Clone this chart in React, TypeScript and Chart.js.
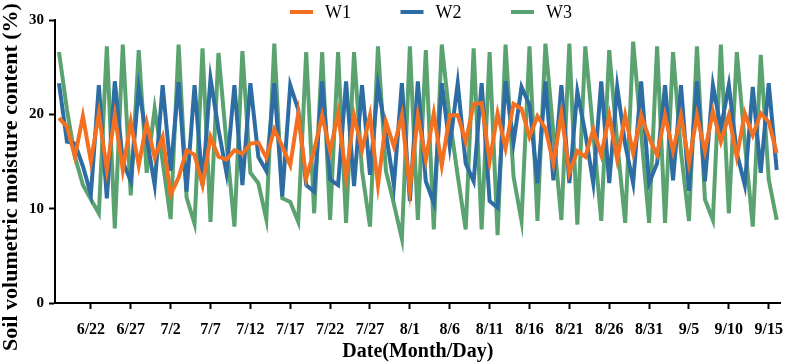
import React, { useEffect, useRef } from "react";
import { Chart, registerables } from "chart.js";

Chart.register(...registerables);

// Day index 0 = 6/18, one value per day up to 9/16 (index 90)
const tickDays = [4, 9, 14, 19, 24, 29, 34, 39, 44, 49, 54, 59, 64, 69, 74, 79, 84, 89];
const tickLabels = ["6/22", "6/27", "7/2", "7/7", "7/12", "7/17", "7/22", "7/27", "8/1", "8/6", "8/11", "8/16", "8/21", "8/26", "8/31", "9/5", "9/10", "9/15"];
const seriesNames = ["W1", "W2", "W3"];
const seriesColors = ["#F37021", "#2D6DA3", "#5AA371"];

const W1 = [
  19.6, 18.7, 15.5, 19.8, 15.0, 20.1, 14.1, 19.9, 14.1, 19.2,
  14.6, 19.1, 15.4, 17.6, 11.5, 13.3, 16.2, 15.7, 12.5, 17.6,
  15.5, 15.2, 16.2, 15.8, 16.9, 17.0, 15.4, 18.4, 16.6, 14.6,
  20.1, 13.2, 16.2, 19.9, 16.1, 20.1, 13.4, 19.9, 16.2, 19.9,
  12.5, 19.2, 16.6, 19.9, 12.0, 19.9, 15.2, 20.1, 14.6, 19.9,
  19.9, 17.1, 21.1, 21.2, 15.0, 20.1, 16.4, 21.1, 20.6, 17.6,
  19.8, 18.5, 14.8, 20.1, 13.8, 16.1, 15.5, 18.4, 15.7, 19.9,
  15.2, 19.9, 15.9, 19.9, 17.5, 15.7, 19.9, 16.1, 19.9, 14.8,
  19.9, 16.1, 20.3, 17.1, 19.9, 15.5, 20.1, 17.8, 20.1, 19.2,
  15.9,
];

const W2 = [
  23.3, 17.1, 16.9, 14.5, 11.5, 23.1, 11.1, 23.5, 15.0, 12.9,
  22.8, 17.5, 12.5, 23.1, 14.0, 23.4, 11.8, 23.1, 12.5, 23.8,
  18.4, 13.8, 23.1, 12.5, 23.3, 15.5, 14.0, 23.3, 11.3, 23.1,
  20.5, 12.5, 11.8, 23.5, 13.1, 12.5, 23.5, 12.4, 23.1, 13.6,
  23.1, 18.0, 12.5, 23.3, 10.8, 23.5, 12.9, 10.6, 23.3, 16.6,
  23.3, 14.8, 12.9, 23.3, 10.8, 10.1, 23.5, 17.0, 22.9, 21.0,
  12.7, 23.5, 13.0, 23.1, 12.7, 22.4, 18.0, 12.7, 23.5, 12.7,
  22.9, 16.8, 12.7, 23.5, 12.7, 14.8, 23.1, 13.0, 23.1, 11.9,
  23.5, 12.9, 23.1, 18.5, 23.1, 15.9, 12.5, 22.9, 13.8, 23.3,
  14.1,
];

const W3 = [
  26.6, 20.5, 15.5, 12.5, 11.0, 9.5, 27.2, 7.9, 27.4, 11.4,
  26.8, 13.8, 20.6, 15.0, 8.9, 27.4, 11.2, 8.4, 27.0, 8.6,
  26.5, 17.0, 8.1, 26.7, 13.8, 12.7, 8.9, 27.5, 11.1, 10.7,
  8.6, 26.6, 9.5, 26.6, 8.8, 26.6, 8.5, 26.6, 14.0, 8.1,
  27.2, 14.0, 10.5, 6.8, 27.2, 8.8, 26.8, 7.8, 27.4, 19.5,
  13.5, 7.8, 27.0, 7.8, 26.6, 7.2, 27.4, 13.4, 8.7, 27.2,
  8.7, 27.5, 18.0, 8.8, 27.5, 8.3, 27.2, 18.0, 8.7, 26.8,
  17.0, 8.5, 27.7, 18.0, 8.5, 27.2, 8.5, 26.6, 16.0, 8.7,
  27.2, 11.0, 8.8, 27.4, 9.5, 26.6, 17.0, 8.1, 26.3, 13.1,
  8.8,
];

const yTitle = "Soil volumetric moisture content (%)";
const xTitle = "Date(Month/Day)";
const SERIF = "'Liberation Serif', 'Times New Roman', serif";

const overlayPlugin = {
  id: "overlay",
  afterDraw(chart: any) {
    const ctx = chart.ctx as CanvasRenderingContext2D;
    ctx.save();
    // legend
    chart.data.datasets.forEach((ds: any, i: number) => {
      const x0 = 290 + i * 110.5;
      const y = 12;
      ctx.fillStyle = ds.borderColor;
      ctx.fillRect(x0, y - 2, 23, 4);
      ctx.fillStyle = "#000";
      ctx.font = `18px ${SERIF}`;
      ctx.textAlign = "left";
      ctx.textBaseline = "middle";
      ctx.fillText(ds.label, x0 + 35, y + 1);
    });
    // y title
    ctx.translate(11, 177);
    ctx.rotate(-Math.PI / 2);
    ctx.font = `bold 22px ${SERIF}`;
    ctx.textAlign = "center";
    ctx.textBaseline = "middle";
    ctx.fillStyle = "#000";
    ctx.fillText(yTitle, 0, 0);
    ctx.restore();
  },
};

export default function App() {
  const ref = useRef<HTMLCanvasElement | null>(null);
  useEffect(() => {
    document.body.style.margin = "0";
    const series = [W1, W2, W3];
    const chart = new Chart(ref.current as HTMLCanvasElement, {
      type: "line",
      data: {
        datasets: series.map((vals, i) => ({
          label: seriesNames[i],
          data: vals.map((y, d) => ({ x: d, y })),
          borderColor: seriesColors[i],
          backgroundColor: seriesColors[i],
          borderWidth: 4,
          pointRadius: 0,
          tension: 0,
          fill: false,
        })),
      },
      options: {
        animation: false,
        responsive: false,
        devicePixelRatio: 1,
        layout: { padding: { top: 20, right: 3.5, left: 0, bottom: 0 } },
        plugins: { legend: { display: false }, tooltip: { enabled: false } },
        scales: {
          x: {
            type: "linear",
            min: -0.5,
            max: 90.5,
            afterFit: (s: any) => {
              s.height = 61;
            },
            afterBuildTicks: (s: any) => {
              s.ticks = tickDays.map((v) => ({ value: v }));
            },
            ticks: {
              autoSkip: false,
              maxRotation: 0,
              padding: 11,
              color: "#000",
              font: { family: SERIF, size: 16, weight: "bold" },
              callback: (v: any) => {
                const k = tickDays.indexOf(Number(v));
                return k >= 0 ? tickLabels[k] : "";
              },
            },
            grid: { display: true, drawOnChartArea: false, drawTicks: true, tickLength: 6, tickWidth: 2, tickColor: "#000" },
            border: { display: true, width: 2, color: "#000" },
            title: {
              display: true,
              text: xTitle,
              color: "#000",
              font: { family: SERIF, size: 20, weight: "bold" },
              padding: { top: 0, bottom: 0 },
            },
          },
          y: {
            min: 0,
            max: 30,
            afterFit: (s: any) => {
              s.width = 55;
            },
            ticks: {
              stepSize: 10,
              padding: 5,
              color: "#000",
              font: { family: SERIF, size: 15, weight: "bold" },
            },
            grid: { display: true, drawOnChartArea: false, drawTicks: true, tickLength: 6, tickWidth: 2, tickColor: "#000" },
            border: { display: true, width: 2, color: "#000" },
          },
        },
      },
      plugins: [overlayPlugin],
    } as any);
    return () => chart.destroy();
  }, []);
  return (
    <div style={{ width: 794, height: 364, position: "relative" }}>
      <canvas ref={ref} width={794} height={364} style={{ display: "block" }} />
    </div>
  );
}
